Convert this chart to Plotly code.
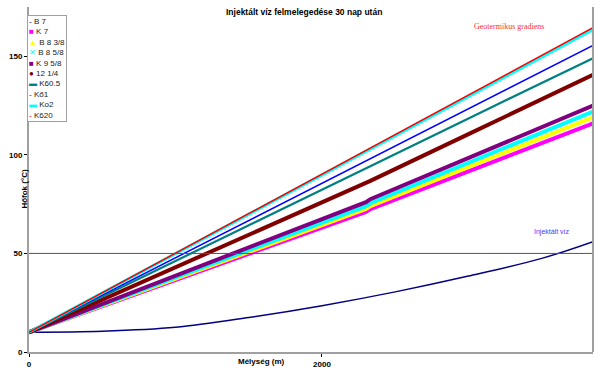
import plotly.graph_objects as go

# Depth (m)
depth = [0, 1000, 2000, 2300, 2330, 3000, 3850]
depth_inj = [0, 500, 1000, 1500, 2000, 2500, 3000, 3500, 3850]

series_names = ["B 7", "K 7", "B 8 3/8", "B 8 5/8", "K 9 5/8", "12 1/4", "K60.5", "Kő1", "Ko2", "K620"]
series_colors = ["#000080", "#FF00FF", "#FFFF00", "#00FFFF", "#800080", "#800000", "#008080", "#0000FF", "#00FFFF", "#FF0000"]
series_widths = [1.5, 4, 4, 4, 4, 4, 2.2, 1.5, 3, 1.5]
legend_symbols = ["-", "■", "▲", "✕", "■", "●", "▬", "-", "▬", "-"]

# Temperatures (°C)
b7 = [10, 10.5, 12.5, 17.5, 23.5, 30.5, 38.5, 47.5, 56]  # injected water (uses depth_inj)
k7 = [10, 36.5, 63.5, 71, 72.5, 91.5, 116]
b8_38 = [10, 37.3, 64.8, 72.5, 74, 93.8, 119]
b8_58 = [10, 38, 66, 74, 75.5, 96, 122]
k9_58 = [10, 38.8, 67.5, 76, 77.5, 98.5, 125]
d12_14 = [10, 43, 76, 85.5, 86.8, 110.5, 140.6]
k605 = [10, 46.3, 82.5, 93.2, 94.3, 118.5, 149]
ko1 = [10, 47.8, 85.6, 96.9, 98.1, 123.4, 155.5]
ko2 = [10, 49.9, 89.7, 101.7, 102.9, 129.6, 163.5]
k620 = [10, 50.1, 90.3, 102.3, 103.5, 130.4, 164.5]

series_values = [b7, k7, b8_38, b8_58, k9_58, d12_14, k605, ko1, ko2, k620]

x_ticks = [0, 2000]
y_ticks = [0, 50, 100, 150]

fig = go.Figure()
for name, vals, col, w in zip(series_names, series_values, series_colors, series_widths):
    xs = depth_inj if name == "B 7" else depth
    fig.add_trace(go.Scatter(x=xs, y=vals, mode="lines", name=name,
                             line=dict(color=col, width=w, shape="spline" if name == "B 7" else "linear"),
                             showlegend=False))

# reference line at 50 °C
fig.add_shape(type="line", xref="paper", x0=0, x1=1, yref="y", y0=50, y1=50,
              line=dict(color="#555555", width=1))

tickfont = dict(family="Liberation Sans", size=8, color="black", weight="bold")
fig.update_xaxes(range=[0, 3850], tickvals=x_ticks, ticktext=[str(v) for v in x_ticks],
                 showgrid=False, zeroline=False, showline=True, linecolor="#A0A0A0",
                 linewidth=2, ticks="outside", ticklen=3, tickcolor="black",
                 tickfont=tickfont, mirror=False)
fig.update_yaxes(range=[0, 175], tickvals=y_ticks, ticktext=[str(v) for v in y_ticks],
                 showgrid=False, zeroline=False, showline=True, linecolor="#A0A0A0",
                 linewidth=2, ticks="outside", ticklen=3, tickcolor="black",
                 tickfont=tickfont)

# right border
fig.add_shape(type="line", xref="paper", yref="paper", x0=1, x1=1, y0=0, y1=1,
              line=dict(color="#A0A0A0", width=2))

legend_lines = [f'<span style="color:{c}">{s}</span> {n}'
                for n, c, s in zip(series_names, series_colors, legend_symbols)]
fig.add_annotation(text="<br>".join(legend_lines), xref="paper", yref="paper",
                   x=-0.004, y=0.978, xanchor="left", yanchor="top", align="left",
                   showarrow=False, bgcolor="white", bordercolor="#A0A0A0", borderwidth=1,
                   borderpad=1, font=dict(family="Liberation Sans", size=8, color="#222222"))

fig.add_annotation(text="Injektált víz felmelegedése 30 nap után", xref="paper", yref="paper",
                   x=0.488, y=0.985, yanchor="middle", showarrow=False,
                   font=dict(family="Liberation Sans", size=8.5, color="black", weight="bold"))
fig.add_annotation(text="Geotermikus gradiens", xref="x", yref="y", x=3275, y=165,
                   showarrow=False, font=dict(family="Liberation Serif", size=8, color="#FF3030"))
fig.add_annotation(text="Injektált víz", xref="x", yref="y", x=3570, y=61,
                   showarrow=False, font=dict(family="Liberation Sans", size=7, color="#4040FF"))
fig.add_annotation(text="Mélység (m)", xref="x", yref="paper", x=1590, y=-0.027,
                   yanchor="middle", showarrow=False,
                   font=dict(family="Liberation Sans", size=8, color="black", weight="bold"))
fig.add_annotation(text="Hőfok (°C)", xref="paper", yref="y", x=-0.02, y=83,
                   textangle=-90, showarrow=False,
                   font=dict(family="Liberation Sans", size=8, color="black", weight="bold"))

fig.update_layout(width=595, height=372, margin=dict(l=29, r=2, t=7, b=20, autoexpand=False),
                  paper_bgcolor="white", plot_bgcolor="white", showlegend=False)

fig.write_html("out.html", config={"displayModeBar": False},
               post_script="document.body.style.margin='0';document.body.style.overflow='hidden';")
